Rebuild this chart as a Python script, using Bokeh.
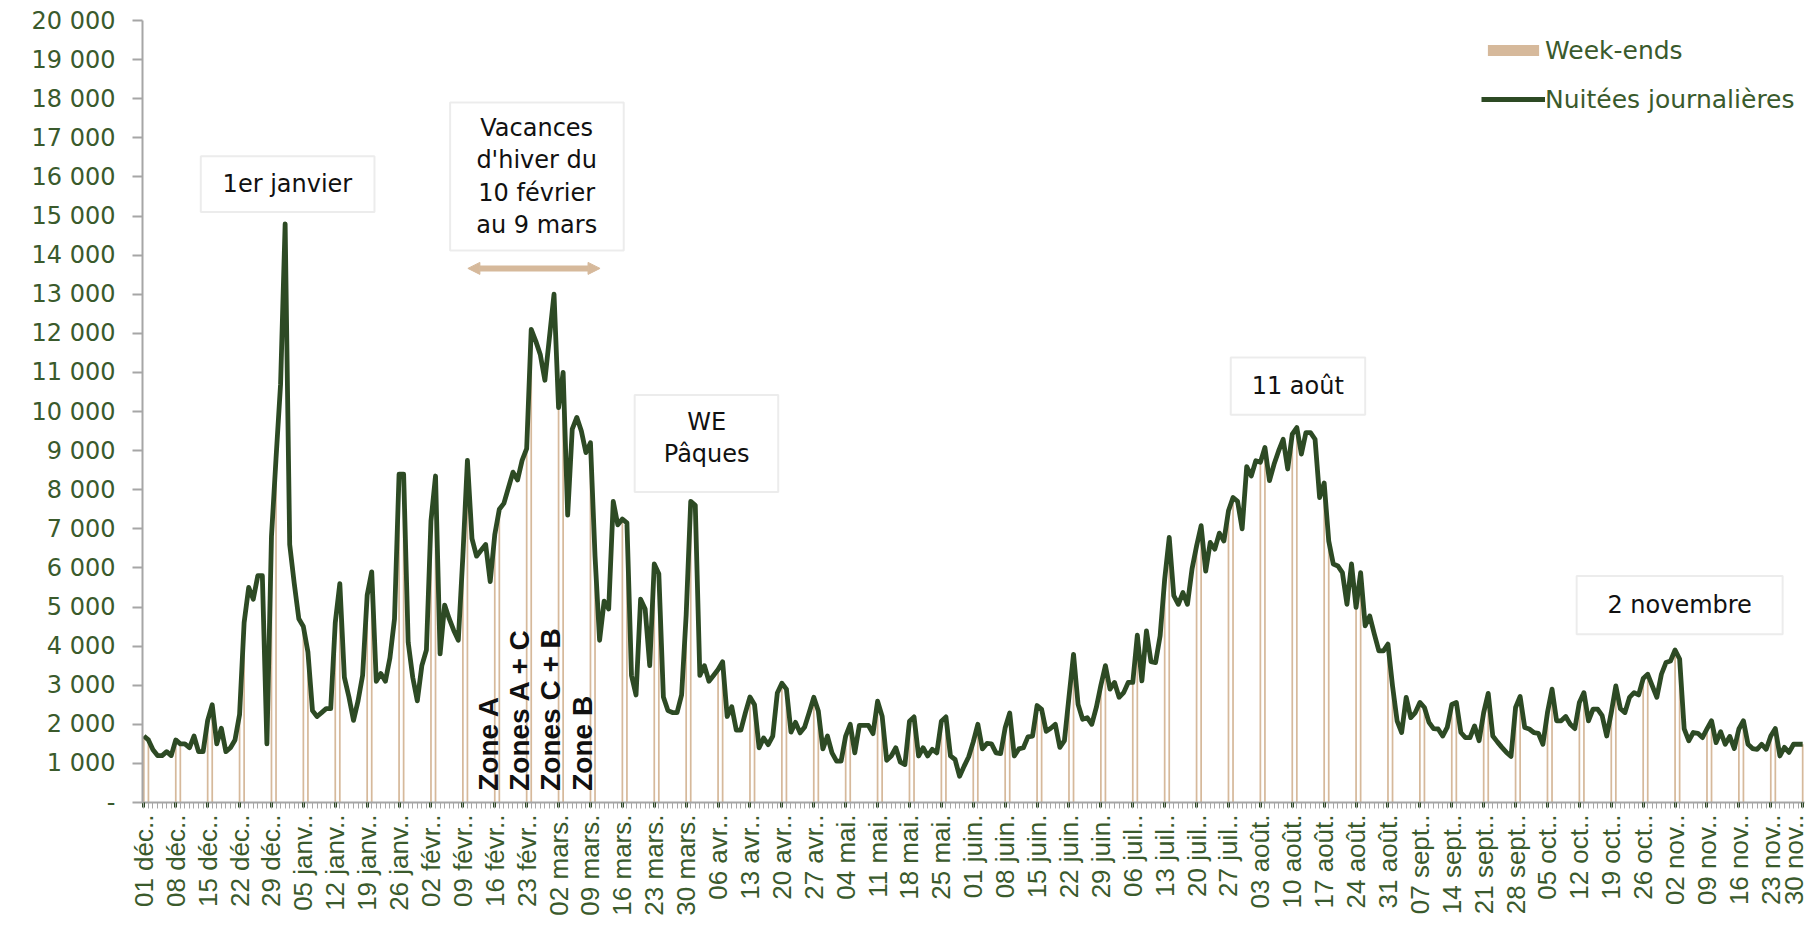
import math
import pandas as pd
from bokeh.plotting import figure
from bokeh.models import (Range1d, FixedTicker, Legend, LegendItem, Label,
                          BoxAnnotation, Arrow, NormalHead)
from bokeh.embed import file_html
from bokeh.resources import INLINE

# ---------------- data (nuitées journalières, 1 déc 2017 -> 30 nov 2018) ----------------
dec = [1700, 1600, 1350, 1200, 1200, 1300, 1200, 1600, 1500, 1500, 1400, 1700, 1300, 1300, 2100, 2500,
       1500, 1900, 1300, 1400, 1600, 2250, 4600, 5500, 5200, 5800, 5800, 1500, 6800, 8800, 10700]
jan = [14800, 6600, 5600, 4700, 4500, 3850, 2350, 2200, 2300, 2400, 2400, 4600, 5600, 3200, 2700, 2100,
       2600, 3250, 5300, 5900, 3100, 3300, 3100, 3700, 4700, 8400, 8400, 4100, 3200, 2600, 3500]
feb = [3900, 7200, 8350, 3800, 5050, 4700, 4400, 4150, 6300, 8750, 6750, 6300, 6450, 6600, 5650, 6850,
       7500, 7650, 8050, 8450, 8250, 8750, 9050, 12100, 11800, 11450, 10800, 11900]
mar = [13000, 10100, 11000, 7350, 9550, 9850, 9500, 8950, 9200, 6300, 4150, 5150, 4950, 7700, 7100, 7250,
       7150, 3250, 2750, 5200, 4950, 3500, 6100, 5850, 2700, 2350, 2300, 2300, 2750, 4800, 7700]
apr = [7600, 3250, 3500, 3100, 3250, 3400, 3600, 2200, 2450, 1850, 1850, 2300, 2700, 2500, 1400, 1650,
       1480, 1700, 2800, 3050, 2900, 1800, 2050, 1780, 1930, 2300, 2690, 2340, 1370, 1700]
may = [1270, 1060, 1060, 1700, 2000, 1270, 1970, 1970, 1970, 1760, 2590, 2210, 1080, 1190, 1400, 1030,
       970, 2080, 2190, 1190, 1400, 1190, 1360, 1270, 2080, 2190, 1190, 1100, 670, 930, 1170]
jun = [1550, 2000, 1370, 1510, 1500, 1270, 1250, 1910, 2290, 1190, 1370, 1400, 1680, 1700, 2480, 2380,
       1820, 1900, 2000, 1410, 1580, 2700, 3790, 2510, 2130, 2170, 2000, 2430, 3000, 3500]
jul = [2900, 3070, 2690, 2810, 3070, 3070, 4280, 3110, 4390, 3600, 3580, 4260, 5710, 6780, 5290, 5070,
       5370, 5070, 5970, 6560, 7080, 5920, 6650, 6480, 6890, 6690, 7460, 7800, 7700, 7000, 8590]
aug = [8350, 8740, 8700, 9080, 8230, 8650, 8990, 9290, 8530, 9420, 9590, 8910, 9460, 9460, 9290, 7800,
       8170, 6690, 6100, 6050, 5880, 5070, 6100, 4990, 5880, 4520, 4770, 4310, 3880, 3880, 4050]
sep = [2980, 2090, 1790, 2690, 2170, 2300, 2560, 2430, 2050, 1890, 1880, 1700, 1920, 2510, 2560, 1790,
       1660, 1660, 1960, 1580, 2300, 2790, 1700, 1550, 1410, 1280, 1180, 2430, 2710, 1920]
oct_ = [1880, 1790, 1770, 1490, 2300, 2900, 2090, 2090, 2200, 2000, 1890, 2560, 2810, 2090, 2390, 2390,
        2220, 1700, 2300, 2980, 2400, 2300, 2690, 2810, 2750, 3170, 3280, 2980, 2690, 3280, 3580]
nov = [3620, 3900, 3670, 1880, 1580, 1790, 1770, 1660, 1880, 2090, 1530, 1810, 1490, 1690, 1380, 1880,
       2090, 1490, 1380, 1360, 1490, 1360, 1700, 1890, 1190, 1410, 1280, 1490, 1490, 1490]

month_abbr = ["janv.", "févr.", "mars", "avr.", "mai", "juin", "juil.", "août", "sept.", "oct.", "nov.", "déc."]

values = dec + jan + feb + mar + apr + may + jun + jul + aug + sep + oct_ + nov
dates = pd.date_range("2017-12-01", "2018-11-30", freq="D")
days = list(range(len(dates)))

# week-ends: nuits du vendredi et du samedi
we_days = [d for d, dt in zip(days, dates) if dt.dayofweek in (4, 5)]
we_vals = [values[d] for d in we_days]

x_ticks = days[::7]
x_labels = {d: f"{dates[d].day:02d} {month_abbr[dates[d].month - 1]}." for d in x_ticks}
y_ticks = list(range(0, 20001, 1000))
y_labels = {t: ("-" if t == 0 else f"{t // 1000} 000") for t in y_ticks}

# ---------------- styles ----------------
GREEN = "#2D4A24"
TXT_GREEN = "#3A5A2C"
TAN = "#D6B99B"
AXIS_GREY = "#A6A6A6"
FONT = "DejaVu Sans"

p = figure(frame_width=1662, frame_height=782,
           x_range=Range1d(-0.3, 364.4), y_range=Range1d(0, 20000),
           output_backend="svg", toolbar_location=None,
           min_border_left=142, min_border_right=4, min_border_top=20, min_border_bottom=120,
           outline_line_color=None, background_fill_color="white", border_fill_color="white")
p.xgrid.visible = False
p.ygrid.visible = False

bars = p.vbar(x=we_days, top=we_vals, width=0.38, fill_color=TAN, line_color=None)
line = p.line(days, values, line_width=4.8, line_color=GREEN, line_join="round")

# y axis
ya = p.yaxis[0]
ya.ticker = FixedTicker(ticks=y_ticks)
ya.major_label_overrides = y_labels
ya.axis_line_color = AXIS_GREY
ya.axis_line_width = 2
ya.major_tick_line_color = AXIS_GREY
ya.major_tick_line_width = 2
ya.major_tick_out = 10
ya.major_tick_in = 0
ya.minor_tick_out = 0
ya.major_label_standoff = 17
ya.major_label_text_font = FONT
ya.major_label_text_font_size = "24px"
ya.major_label_text_color = TXT_GREEN

# x axis
xa = p.xaxis[0]
xa.ticker = FixedTicker(ticks=x_ticks, minor_ticks=days)
xa.major_label_overrides = x_labels
xa.major_label_orientation = math.pi / 2
xa.axis_line_color = AXIS_GREY
xa.axis_line_width = 2
xa.major_tick_line_color = GREEN
xa.major_tick_line_width = 3
xa.minor_tick_line_color = AXIS_GREY
xa.major_tick_out = 5
xa.major_tick_in = 0
xa.minor_tick_out = 6
xa.minor_tick_in = 0
xa.major_label_standoff = 6
xa.major_label_text_font = "Liberation Sans"
xa.major_label_text_font_size = "26px"
xa.major_label_text_color = TXT_GREEN

# legend
legend = Legend(items=[LegendItem(label="Week-ends", renderers=[bars]),
                       LegendItem(label="Nuitées journalières", renderers=[line])],
                location=(1339, 688), orientation="vertical",
                glyph_width=64, glyph_height=14, label_height=30, spacing=19,
                padding=0, margin=0, border_line_color=None, background_fill_alpha=0,
                label_text_font=FONT, label_text_font_size="25px",
                label_text_color=TXT_GREEN, label_standoff=0)
p.add_layout(legend)

# annotation boxes
boxes = [
    (12.5, 50.6, 15100, 16530, 31.5, 15815, "1er janvier"),
    (67.2, 105.3, 14120, 17900, 86.2, 16010, "Vacances\nd'hiver du\n10 février\nau 9 mars"),
    (107.7, 139.2, 7940, 10420, 123.5, 9330, "WE\nPâques"),
    (238.5, 268.0, 9920, 11380, 253.2, 10650, "11 août"),
    (314.4, 359.6, 4300, 5790, 337.0, 5045, "2 novembre"),
]
for l, r, b, t, cx, cy, txt in boxes:
    p.add_layout(BoxAnnotation(left=l, right=r, bottom=b, top=t, fill_color="white", fill_alpha=1,
                               line_color="#BFBFBF", line_width=2, level="overlay"))
    p.add_layout(Label(x=cx, y=cy, text=txt, text_align="center", text_baseline="middle",
                       text_font=FONT, text_font_size="24px", text_color="#111111",
                       text_line_height=1.15, level="overlay"))

# vacation arrow
head_s = NormalHead(size=12, fill_color=TAN, line_color=TAN)
head_e = NormalHead(size=12, fill_color=TAN, line_color=TAN)
p.add_layout(Arrow(start=head_s, end=head_e, x_start=71.1, y_start=13660, x_end=100.1, y_end=13660,
                   line_color=TAN, line_width=6))

# zones labels
for cx, txt in [(75.7, "Zone A"), (82.4, "Zones A + C"), (89.2, "Zones C + B"), (96.3, "Zone B")]:
    p.add_layout(Label(x=cx, y=300, text=txt, angle=math.pi / 2, text_align="left",
                       text_baseline="middle", text_font="Liberation Sans",
                       text_font_style="bold", text_font_size="28px", text_color="#111111"))

open("out.html", "w", encoding="utf-8").write(file_html(p, INLINE))
